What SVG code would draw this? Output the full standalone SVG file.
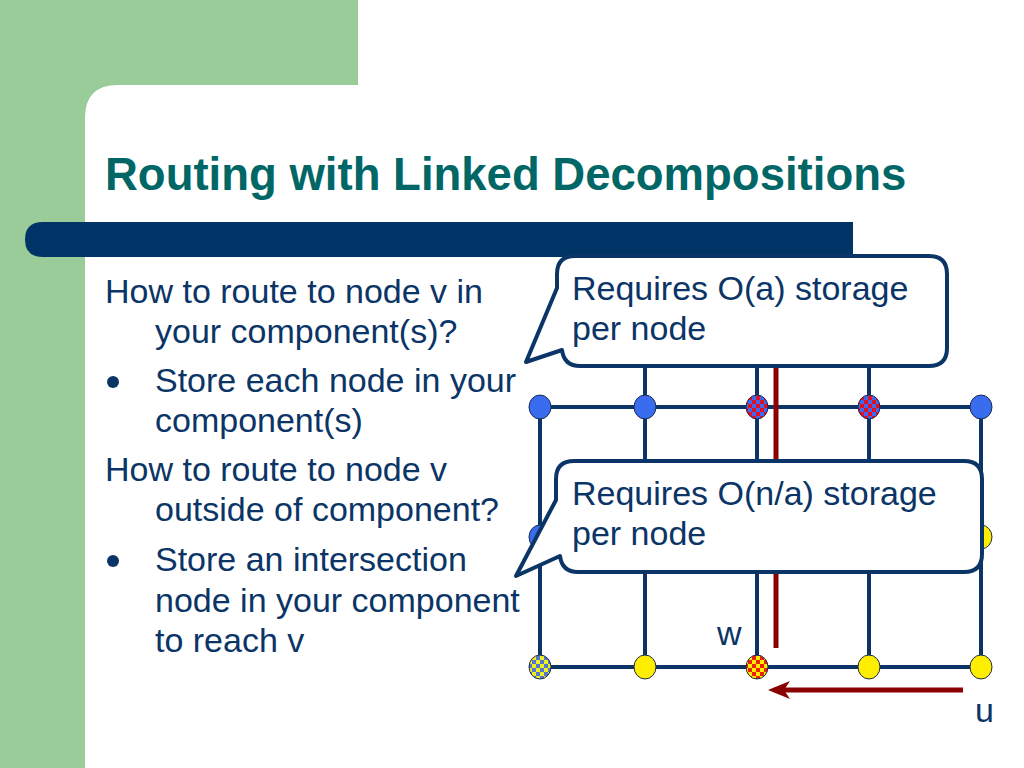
<svg xmlns="http://www.w3.org/2000/svg" width="1024" height="768" viewBox="0 0 1024 768">
<defs>
<pattern id="rb" width="8" height="8" patternUnits="userSpaceOnUse">
<rect width="8" height="8" fill="#4466ee"/><rect width="4" height="4" fill="#dd1122"/><rect x="4" y="4" width="4" height="4" fill="#dd1122"/>
</pattern>
<pattern id="ry" width="8" height="8" patternUnits="userSpaceOnUse">
<rect width="8" height="8" fill="#ffee00"/><rect width="4" height="4" fill="#ee2200"/><rect x="4" y="4" width="4" height="4" fill="#ee2200"/>
</pattern>
<pattern id="by" width="8" height="8" patternUnits="userSpaceOnUse">
<rect width="8" height="8" fill="#eeee22"/><rect width="4" height="4" fill="#5577cc"/><rect x="4" y="4" width="4" height="4" fill="#5577cc"/>
</pattern>
<marker id="ah" markerWidth="24" markerHeight="18" refX="16" refY="9" orient="auto" markerUnits="userSpaceOnUse">
<path d="M0,0 L22,9 L0,18 L6,9 Z" fill="#8b0000"/>
</marker>
</defs>
<style>
.body{font-family:"Liberation Sans",Arial,sans-serif;font-size:34px;fill:#0b3566}
.title{font-family:"Liberation Sans",Arial,sans-serif;font-size:45.5px;font-weight:bold;fill:#006666}
.grid{stroke:#0b3566;stroke-width:4;fill:none}
.node{stroke:#1a2a50;stroke-width:1}
.blue{fill:#3a6cf0}
.yellow{fill:#ffee00}
.red{stroke:#8b0000;stroke-width:5;fill:none}
.callout{fill:#ffffff;stroke:#0b3566;stroke-width:4;stroke-linejoin:round}
</style>
<!-- background -->
<rect x="0" y="0" width="1024" height="768" fill="#ffffff"/>
<rect x="0" y="0" width="358" height="85" fill="#99cc99"/>
<rect x="0" y="0" width="85" height="768" fill="#99cc99"/>
<rect x="85" y="85" width="40" height="40" fill="#99cc99"/>
<path d="M85,768 V118 Q85,85 118,85 H358 V768 Z" fill="#ffffff"/>
<path d="M43,222 H853 V257 H43 Q25,257 25,239.5 Q25,222 43,222 Z" fill="#003366"/>
<text class="title" x="105" y="190">Routing with Linked Decompositions</text>
<!-- body text -->
<g id="bodytext">
<text class="body" x="105" y="303">How to route to node v in</text>
<text class="body" x="155" y="343">your component(s)?</text>
<circle cx="113" cy="382" r="6" fill="#0b3566"/>
<text class="body" x="155" y="392">Store each node in your</text>
<text class="body" x="155" y="432">component(s)</text>
<text class="body" x="105" y="481">How to route to node v</text>
<text class="body" x="155" y="521">outside of component?</text>
<circle cx="113" cy="561" r="6" fill="#0b3566"/>
<text class="body" x="155" y="571">Store an intersection</text>
<text class="body" x="155" y="612">node in your component</text>
<text class="body" x="155" y="652">to reach v</text>
</g>
<!-- connectors -->
<g id="connectors">
<line class="grid" x1="540" y1="407" x2="981" y2="407"/>
<line class="grid" x1="540" y1="537" x2="981" y2="537"/>
<line class="grid" x1="540" y1="667" x2="981" y2="667"/>
<line class="grid" x1="540" y1="407" x2="540" y2="667"/>
<line class="grid" x1="645" y1="360" x2="645" y2="667"/>
<line class="grid" x1="757" y1="360" x2="757" y2="667"/>
<line class="grid" x1="869" y1="360" x2="869" y2="667"/>
<line class="grid" x1="981" y1="407" x2="981" y2="667"/>
<line class="red" x1="776" y1="360" x2="776" y2="648"/>
<line class="red" x1="963" y1="690" x2="774" y2="690" marker-end="url(#ah)"/>
</g>
<!-- nodes -->
<g id="n1"><ellipse class="node blue" cx="540" cy="407" rx="11" ry="12"/></g>
<g id="n2"><ellipse class="node blue" cx="645" cy="407" rx="11" ry="12"/></g>
<g id="n3"><ellipse class="node" cx="757" cy="407" rx="11" ry="12" fill="url(#rb)"/></g>
<g id="n4"><ellipse class="node" cx="869" cy="407" rx="11" ry="12" fill="url(#rb)"/></g>
<g id="n5"><ellipse class="node blue" cx="981" cy="407" rx="11" ry="12"/></g>
<g id="n6"><ellipse class="node blue" cx="540" cy="537" rx="11" ry="12"/></g>
<g id="n7"><ellipse class="node yellow" cx="981" cy="537" rx="11" ry="12"/></g>
<g id="n8"><ellipse class="node" cx="540" cy="667" rx="11" ry="12" fill="url(#by)"/></g>
<g id="n9"><ellipse class="node yellow" cx="645" cy="667" rx="11" ry="12"/></g>
<g id="n10"><ellipse class="node" cx="757" cy="667" rx="11" ry="12" fill="url(#ry)"/></g>
<g id="n11"><ellipse class="node yellow" cx="869" cy="667" rx="11" ry="12"/></g>
<g id="n12"><ellipse class="node yellow" cx="981" cy="667" rx="11" ry="12"/></g>
<g id="labels">
<text class="body" x="717" y="645">w</text>
<text class="body" x="975" y="722">u</text>
</g>
<!-- callouts -->
<g id="callout1">
<path class="callout" d="M575,256 H929 Q947,256 947,274 V348 Q947,366 929,366 H580 Q564,366 562,350 L526,362 L557,288 V274 Q557,256 575,256 Z"/>
<text class="body" x="572" y="300">Requires O(a) storage</text>
<text class="body" x="572" y="340">per node</text>
</g>
<g id="callout2">
<path class="callout" d="M574,461 H964 Q982,461 982,479 V554 Q982,572 964,572 H578 Q562,572 560,556 L516,576 L556,500 V479 Q556,461 574,461 Z"/>
<text class="body" x="572" y="505">Requires O(n/a) storage</text>
<text class="body" x="572" y="545">per node</text>
</g>
</svg>
